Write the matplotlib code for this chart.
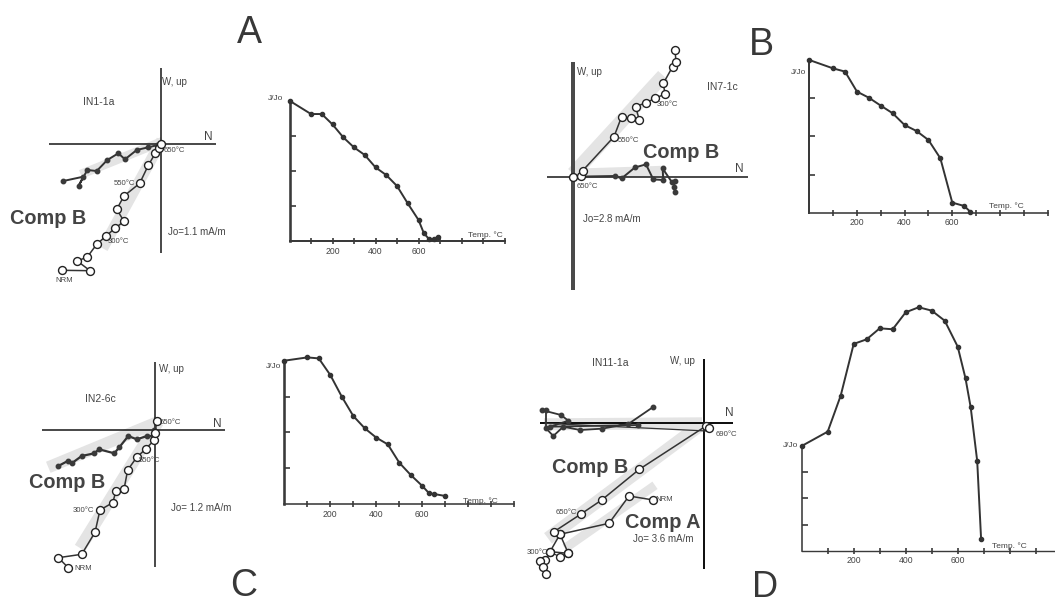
import matplotlib
matplotlib.use("Agg")
import matplotlib.pyplot as plt

plt.rcParams['font.family'] = ['Liberation Sans', 'DejaVu Sans']

# ---- Zijderveld data (offsets from the diagram origin, arbitrary units) ----
# panel A, IN1-1a
a_open_x = [-98.4, -70.7, -83.4, -73.4, -64, -54.7, -45.7, -36.7, -44, -36.7, -21, -12.4, -5.4, -1.4, 0.6]
a_open_y = [-126.0, -126.4, -116.7, -112.7, -100, -91.7, -84, -77, -65, -51.7, -39, -21, -9, -4, 0.3]
a_fill_x = [-97.4, -77.4, -82, -73.4, -64, -53.4, -42.4, -35.7, -24, -12.4, -4, 0]
a_fill_y = [-36.7, -32.4, -41.4, -25.7, -26.7, -15.7, -9, -15, -5.7, -3, -1, 0.3]
a_band_open = ([1, -58], [4, -104])
a_band_fill = ([2, -80], [3, -30])

# panel B, IN7-1c
b_open_x = [0, 7.3, 9.3, 40.7, 48.3, 57.3, 66, 62.3, 72.7, 81.7, 91.7, 90, 99.3, 102.7, 101.7]
b_open_y = [0, 0.7, 6, 40, 60, 58.3, 56.7, 70, 74, 78.3, 82.7, 93.3, 110, 115, 126.7]
b_fill_x = [0, 41.7, 48.3, 61.7, 72.7, 80, 90, 89.3, 98.3, 101.7, 100.7, 101.7]
b_fill_y = [0, 0.7, -1.7, 9.3, 12.3, -2.7, -3.3, 8.3, -5, -4, -10, -15]
b_band_open = ([0, 90], [3, 101])
b_band_fill = ([0, 92], [3, 6])

# panel C, IN2-6c
c_open_x = [-86.7, -96.7, -73.3, -60, -55, -42.3, -39, -31, -27.3, -18.3, -9.3, -0.7, 0.3, 1.7]
c_open_y = [-137.7, -127.7, -124.3, -102.3, -80, -72.7, -61, -59.3, -40, -27.3, -19, -10, -3.3, 9.3]
c_fill_x = [-96.7, -86.7, -83.3, -73.3, -60.7, -56, -40.7, -35.7, -26.7, -18.3, -7.7, -2.3, -0.7]
c_fill_y = [-36, -30.7, -33.3, -26, -23.3, -19.3, -23.3, -17.3, -6, -9.3, -6, -6, 0]
c_band_open = ([3, -75], [8, -118])
c_band_fill = ([3, -106.7], [8, -37.3])

# panel D, IN11-1a
d_open_x = [-50.7, -75, -95, -144, -135.7, -154, -144, -150, -123, -102.3, -64.7, 2, 5]
d_open_y = [-76.7, -72.7, -100, -111, -130, -128.4, -111, -108.4, -90.7, -76.7, -46, -2.7, -4.7]
d_clus_x = [-135.7, -144, -154, -159, -164, -160.7, -158.3]
d_clus_y = [-130, -133.7, -128.4, -136.7, -137.4, -143.4, -150.7]
d_fill_x = [-51.3, -75.7, -102.3, -124, -140.7, -150.7, -158, -158, -162.3, -143, -135.7, -154, -65.7]
d_fill_y = [16, -0.7, -5.4, -6.7, -3.4, -12.7, -5, 13.3, 13.3, 8.3, 2.6, -3.4, -1.7]
d_thin = ([-159, 3], [0, -7.7])
d_band_hor = ([-160, -2], [-1, 0])
d_band_b = ([-4, -156], [-2, -115])
d_band_a = ([-49, -139], [-62, -125])

# ---- thermal demagnetisation curves ----
a_temp = [0, 100, 150, 200, 250, 300, 350, 400, 450, 500, 550, 600, 625, 650, 670, 690]
a_j = [1.0, 0.905, 0.905, 0.831, 0.739, 0.667, 0.613, 0.525, 0.470, 0.392, 0.268, 0.150, 0.055, 0.012, 0.012, 0.031]
b_temp = [0, 100, 150, 200, 250, 300, 350, 400, 450, 500, 550, 600, 650, 675]
b_j = [1.0, 0.945, 0.924, 0.793, 0.753, 0.701, 0.651, 0.574, 0.535, 0.476, 0.356, 0.066, 0.044, 0.007]
c_temp = [0, 100, 150, 200, 250, 300, 350, 400, 450, 500, 550, 600, 630, 650, 700]
c_j = [1.0, 1.023, 1.016, 0.90, 0.749, 0.614, 0.528, 0.463, 0.416, 0.288, 0.202, 0.126, 0.074, 0.07, 0.056]
d_temp = [0, 100, 150, 200, 250, 300, 350, 400, 450, 500, 550, 600, 630, 650, 675, 690]
d_j = [1.0, 1.137, 1.481, 1.975, 2.019, 2.124, 2.115, 2.277, 2.325, 2.293, 2.197, 1.949, 1.646, 1.369, 0.857, 0.111]

temp_labels = {200: '200', 400: '400', 600: '600'}

W, H = 1055, 603
fig = plt.figure(figsize=(W / 100, H / 100), dpi=100)
INK = '#333333'
TXT = '#444444'
BAND = '#e4e4e4'
PX = 0.72  # points per pixel


def px_axes(left, top, right, bottom):
    return fig.add_axes([left / W, 1 - bottom / H, (right - left) / W, (bottom - top) / H])


def label(x, y, s, size=6, ha='left', va='center', **kw):
    fig.text(x / W, 1 - y / H, s, fontsize=size, ha=ha, va=va, color=kw.pop('color', TXT), **kw)


def zijderveld(origin, hlim, vlim, lw_h=1.5, lw_v=1.5, col_v='#111111'):
    ox, oy = origin
    ax = px_axes(ox + hlim[0], oy - vlim[1], ox + hlim[1], oy - vlim[0])
    ax.set_xlim(hlim)
    ax.set_ylim(vlim)
    ax.axis('off')
    ax.axhline(0, color='#111111', lw=lw_h * PX, zorder=2)
    ax.axvline(0, color=col_v, lw=lw_v * PX, zorder=2)
    return ax


def band(ax, pts, width):
    ax.plot(pts[0], pts[1], color=BAND, lw=width * PX, solid_capstyle='butt', zorder=1)


def fill_series(ax, x, y, lw=1.4):
    ax.plot(x, y, color=INK, lw=lw, marker='o', ms=3.2, mfc='#3a3a3a', mec='#3a3a3a',
            zorder=4, clip_on=False)


def open_series(ax, x, y, lw=1.1):
    ax.plot(x, y, color=INK, lw=lw, marker='o', ms=5.7, mfc='white', mec='#222222',
            mew=1.0, zorder=5, clip_on=False)


def demag(x0, y0, ppd, y1, tmax, t, j, lw_left=2.5, lw_bottom=1.8):
    ax = px_axes(x0, y1, x0 + tmax * ppd, y0)
    ax.set_xlim(0, tmax)
    ax.set_ylim(0, 1)
    for s in ('top', 'right'):
        ax.spines[s].set_visible(False)
    ax.spines['left'].set_linewidth(lw_left * PX)
    ax.spines['bottom'].set_linewidth(lw_bottom * PX)
    ax.spines['left'].set_color('#3a3a3a')
    ax.spines['bottom'].set_color('#3a3a3a')
    ticks = list(range(100, int(tmax) + 1, 100))
    ax.set_xticks(ticks)
    ax.set_xticklabels([temp_labels.get(v, '') for v in ticks])
    ax.set_yticks([0.25, 0.5, 0.75])
    ax.set_yticklabels([])
    ax.tick_params(axis='x', direction='inout', length=4, width=1.2, colors='#3a3a3a',
                   labelsize=6.2, labelcolor=TXT, pad=2)
    ax.tick_params(axis='y', direction='in', length=4, width=1.2, colors='#3a3a3a')
    ax.patch.set_visible(False)
    ax.plot(t, j, color=INK, lw=1.4, marker='o', ms=3, clip_on=False, zorder=5)
    return ax


# ---------------- panel A ----------------
ax = zijderveld((160.7, 144.3), (-112, 55), (-109, 76))
band(ax, a_band_open, 11)
band(ax, a_band_fill, 9)
fill_series(ax, a_fill_x, a_fill_y)
open_series(ax, a_open_x, a_open_y)
label(162.5, 82, 'W, up', 7)
label(208, 137, 'N', 8.5, ha='center')
label(98.5, 102, 'IN1-1a', 7.5, ha='center')
label(163.5, 150, '650°C', 5.6)
label(135, 183, '550°C', 5.6, ha='right')
label(108, 241, '300°C', 5.6)
label(64.5, 280.5, 'NRM', 5.6, ha='center')
label(168, 232, 'Jo=1.1 mA/m', 7)
label(10, 218, 'Comp B', 14.3, weight='bold')
demag(289.5, 241, 0.215, 100.7, 1000, a_temp, a_j, 2.6, 2.0)
label(283, 98.5, 'J/Jo', 6, ha='right')
label(467.7, 235, 'Temp. °C', 6)
label(249, 43.3, 'A', 27, ha='center', va='baseline', color='#383838')

# ---------------- panel B ----------------
ax = zijderveld((573.3, 176.7), (-26.6, 175), (-113.3, 115), lw_h=1.5, lw_v=4, col_v='#4a4a4a')
band(ax, b_band_open, 14)
band(ax, b_band_fill, 10)
fill_series(ax, b_fill_x, b_fill_y)
open_series(ax, b_open_x, b_open_y)
label(576.7, 72, 'W, up', 7)
label(722.5, 87, 'IN7-1c', 7.5, ha='center')
label(656.7, 105, '300°C', 5.6)
label(618, 140.5, '550°C', 5.6)
label(642.7, 152, 'Comp B', 14.3, weight='bold')
label(739.3, 168.5, 'N', 8.5, ha='center')
label(577, 187, '650°C', 5.6)
label(582.7, 219.5, 'Jo=2.8 mA/m', 7)
demag(809.3, 212.7, 0.2383, 60, 1000, b_temp, b_j, 2.0, 1.6)
label(806, 72.5, 'J/Jo', 6, ha='right')
label(989, 206, 'Temp. °C', 6)
label(761, 55, 'B', 27, ha='center', va='baseline', color='#383838')

# ---------------- panel C ----------------
ax = zijderveld((155, 430), (-113.3, 70), (-136.7, 68.3))
band(ax, c_band_open, 12)
band(ax, c_band_fill, 12)
fill_series(ax, c_fill_x, c_fill_y, lw=1.6)
open_series(ax, c_open_x, c_open_y)
label(159.3, 369.5, 'W, up', 7)
label(100, 398.5, 'IN2-6c', 7.5, ha='center')
label(159.3, 422, '650°C', 5.6)
label(217.7, 424, 'N', 8.5, ha='center')
label(139, 461, '550°C', 5.6)
label(29, 483, 'Comp B', 14.3, weight='bold')
label(94, 510.5, '300°C', 5.6, ha='right')
label(170.7, 508, 'Jo= 1.2 mA/m', 7)
label(74, 568, 'NRM', 5.6)
demag(284.3, 504, 0.23, 360.7, 1000, c_temp, c_j, 2.6, 1.6)
label(281, 366.5, 'J/Jo', 6, ha='right')
label(462.7, 501, 'Temp. °C', 6)
label(244, 596, 'C', 27, ha='center', va='baseline', color='#383838')

# ---------------- panel D ----------------
ax = zijderveld((704, 423.3), (-164, 29.3), (-146, 64), lw_h=2, lw_v=2)
band(ax, d_band_hor, 12)
band(ax, d_band_b, 13)
band(ax, d_band_a, 9)
ax.plot(d_thin[0], d_thin[1], color=INK, lw=0.9, zorder=3)
fill_series(ax, d_fill_x, d_fill_y, lw=1.3)
open_series(ax, d_clus_x, d_clus_y, lw=0.9)
open_series(ax, d_open_x, d_open_y)
label(610, 362.5, 'IN11-1a', 7.5, ha='center')
label(695, 361, 'W, up', 7, ha='right')
label(729, 413.5, 'N', 8.5, ha='center')
label(715.7, 434.5, '690°C', 5.6)
label(551.7, 467.5, 'Comp B', 14.3, weight='bold')
label(655, 499.5, 'NRM', 5.6)
label(577, 512, '650°C', 5.6, ha='right')
label(625, 522, 'Comp A', 14.3, weight='bold')
label(633, 538.5, 'Jo= 3.6 mA/m', 7)
label(548, 553, '300°C', 5.6, ha='right')
demag(801.7, 550.7, 0.26, 446, 970, d_temp, d_j, 1.6, 1.4)
label(798, 445.5, 'J/Jo', 6, ha='right')
label(992, 546, 'Temp. °C', 6)
label(765.5, 597, 'D', 26, ha='center', va='baseline', color='#383838')

fig.savefig('out.png', dpi=100)
